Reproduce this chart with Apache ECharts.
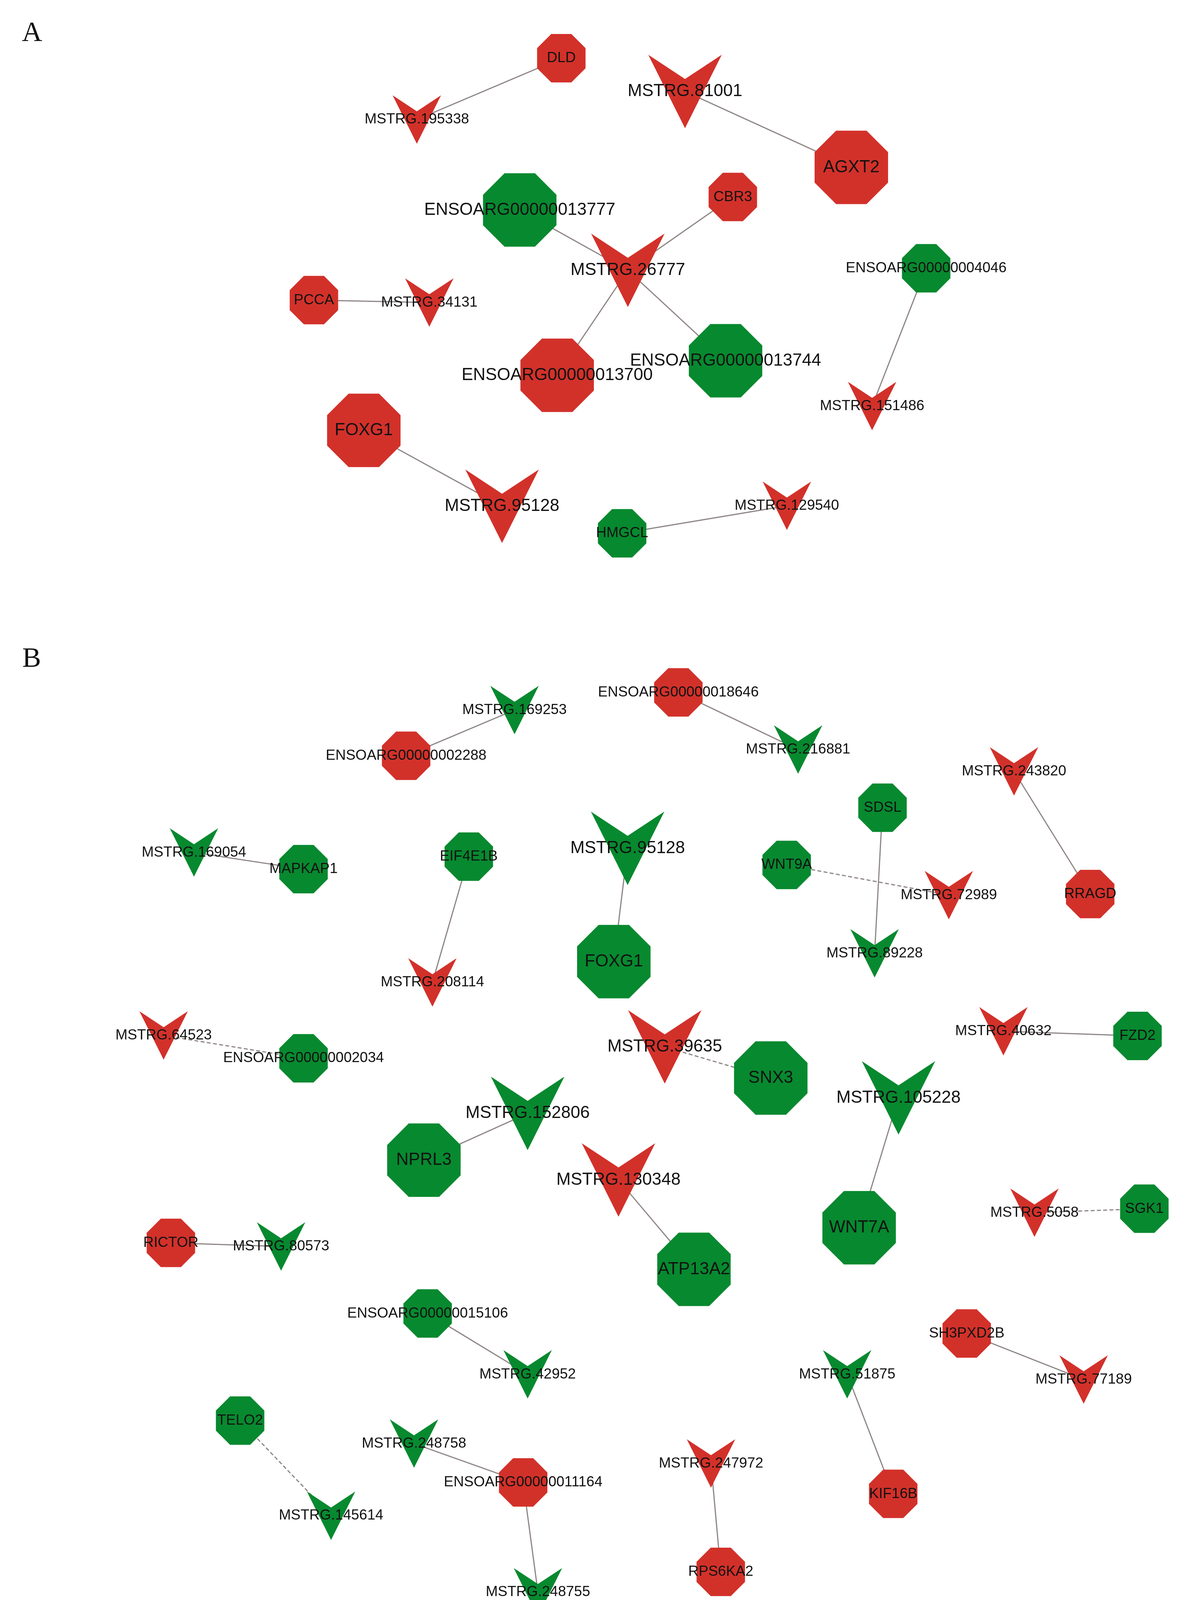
<!DOCTYPE html>
<html>
<head>
<meta charset="utf-8">
<title>lncRNA - mRNA network</title>
<script src="https://cdn.jsdelivr.net/npm/echarts@6/dist/echarts.min.js"></script>
<style>
  html, body { margin: 0; padding: 0; background: #ffffff; }
  #chart { width: 3033px; height: 4173px; }
</style>
</head>
<body>
<div id="chart"></div>
<script>
// ---- panel A ----
const aNames = ['DLD', 'MSTRG.195338', 'MSTRG.81001', 'AGXT2', 'ENSOARG00000013777', 'CBR3',
  'MSTRG.26777', 'ENSOARG00000004046', 'PCCA', 'MSTRG.34131', 'ENSOARG00000013744',
  'ENSOARG00000013700', 'MSTRG.151486', 'FOXG1', 'MSTRG.95128', 'HMGCL', 'MSTRG.129540'];
const aX = [540, 401, 659, 819, 500, 705, 604, 891, 302, 413, 698, 536, 839, 350, 483, 598.5, 757];
const aY = [56, 115, 88, 161, 202, 189.5, 260, 258, 288.7, 291, 347, 361, 390.6, 414, 487, 513, 486.5];
const aKind = ['mRNA', 'lncRNA', 'lncRNA', 'mRNA', 'mRNA', 'mRNA', 'lncRNA', 'mRNA', 'mRNA', 'lncRNA',
  'mRNA', 'mRNA', 'lncRNA', 'mRNA', 'lncRNA', 'mRNA', 'lncRNA'];
const aReg = ['up', 'up', 'up', 'up', 'down', 'up', 'up', 'down', 'up', 'up',
  'down', 'up', 'up', 'up', 'up', 'down', 'up'];
const aHub = [0, 0, 1, 1, 1, 0, 1, 0, 0, 0, 1, 1, 0, 1, 1, 0, 0];
const aSource = ['DLD', 'MSTRG.81001', 'ENSOARG00000013777', 'CBR3', 'MSTRG.26777', 'MSTRG.26777',
  'PCCA', 'ENSOARG00000004046', 'FOXG1', 'HMGCL'];
const aTarget = ['MSTRG.195338', 'AGXT2', 'MSTRG.26777', 'MSTRG.26777', 'ENSOARG00000013700',
  'ENSOARG00000013744', 'MSTRG.34131', 'MSTRG.151486', 'MSTRG.95128', 'MSTRG.129540'];
const aDashed = [0, 0, 0, 0, 0, 0, 0, 0, 0, 0];

// ---- panel B ----
const bNames = ['MSTRG.169253', 'ENSOARG00000002288', 'ENSOARG00000018646', 'MSTRG.216881', 'MSTRG.243820',
  'MSTRG.169054', 'MAPKAP1', 'EIF4E1B', 'MSTRG.95128', 'SDSL', 'WNT9A', 'MSTRG.72989', 'RRAGD',
  'FOXG1', 'MSTRG.208114', 'MSTRG.89228', 'MSTRG.64523', 'ENSOARG00000002034', 'MSTRG.39635', 'SNX3',
  'MSTRG.40632', 'FZD2', 'MSTRG.152806', 'NPRL3', 'MSTRG.105228', 'MSTRG.130348', 'WNT7A', 'ATP13A2',
  'MSTRG.5058', 'SGK1', 'RICTOR', 'MSTRG.80573', 'ENSOARG00000015106', 'MSTRG.42952', 'SH3PXD2B',
  'MSTRG.77189', 'MSTRG.51875', 'TELO2', 'MSTRG.248758', 'ENSOARG00000011164', 'MSTRG.145614',
  'MSTRG.247972', 'KIF16B', 'MSTRG.248755', 'RPS6KA2'];
const bX = [495, 390.7, 652.6, 767.8, 975.5, 186.6, 292, 451, 603.8, 849, 756.8, 912.8, 1048.8,
  590.5, 416, 841.4, 157.4, 292, 639.5, 741.5, 965.3, 1094.3, 507.6, 407.8, 864.4, 595, 826.5, 667.6,
  995.2, 1100.9, 164.4, 270.4, 411.4, 507.6, 930, 1042.5, 815, 231, 398.3, 503.3, 318.5,
  684, 859.3, 517.5, 693.4];
const bY = [683, 727, 666, 721, 742, 820, 836, 824, 816, 777, 832, 861, 860,
  925, 945, 917, 996, 1018, 1007, 1037, 992, 996.5, 1071, 1116, 1056, 1135, 1181, 1221,
  1166.5, 1162.7, 1195.5, 1199, 1263.5, 1322, 1282.7, 1327, 1322, 1366.5, 1388.6, 1426, 1458,
  1407.7, 1437, 1531.6, 1512];
const bKind = ['lncRNA', 'mRNA', 'mRNA', 'lncRNA', 'lncRNA', 'lncRNA', 'mRNA', 'mRNA', 'lncRNA', 'mRNA',
  'mRNA', 'lncRNA', 'mRNA', 'mRNA', 'lncRNA', 'lncRNA', 'lncRNA', 'mRNA', 'lncRNA', 'mRNA', 'lncRNA',
  'mRNA', 'lncRNA', 'mRNA', 'lncRNA', 'lncRNA', 'mRNA', 'mRNA', 'lncRNA', 'mRNA', 'mRNA', 'lncRNA',
  'mRNA', 'lncRNA', 'mRNA', 'lncRNA', 'lncRNA', 'mRNA', 'lncRNA', 'mRNA', 'lncRNA', 'lncRNA', 'mRNA',
  'lncRNA', 'mRNA'];
const bReg = ['down', 'up', 'up', 'down', 'up', 'down', 'down', 'down', 'down', 'down', 'down', 'up', 'up',
  'down', 'up', 'down', 'up', 'down', 'up', 'down', 'up', 'down', 'down', 'down', 'down', 'up', 'down',
  'down', 'up', 'down', 'up', 'down', 'down', 'down', 'up', 'up', 'down', 'down', 'down', 'up', 'down',
  'up', 'up', 'down', 'up'];
const bHub = [0, 0, 0, 0, 0, 0, 0, 0, 1, 0, 0, 0, 0, 1, 0, 0, 0, 0, 1, 1, 0, 0, 1, 1, 1, 1, 1, 1,
  0, 0, 0, 0, 0, 0, 0, 0, 0, 0, 0, 0, 0, 0, 0, 0, 0];
const bSource = ['ENSOARG00000002288', 'ENSOARG00000018646', 'MSTRG.243820', 'MSTRG.169054', 'EIF4E1B',
  'MSTRG.95128', 'WNT9A', 'SDSL', 'MSTRG.64523', 'MSTRG.39635', 'MSTRG.40632', 'MSTRG.152806',
  'MSTRG.105228', 'MSTRG.130348', 'MSTRG.5058', 'RICTOR', 'ENSOARG00000015106', 'SH3PXD2B',
  'MSTRG.51875', 'TELO2', 'MSTRG.248758', 'ENSOARG00000011164', 'MSTRG.247972'];
const bTarget = ['MSTRG.169253', 'MSTRG.216881', 'RRAGD', 'MAPKAP1', 'MSTRG.208114',
  'FOXG1', 'MSTRG.72989', 'MSTRG.89228', 'ENSOARG00000002034', 'SNX3', 'FZD2', 'NPRL3',
  'WNT7A', 'ATP13A2', 'SGK1', 'MSTRG.80573', 'MSTRG.42952', 'MSTRG.77189',
  'KIF16B', 'MSTRG.145614', 'ENSOARG00000011164', 'MSTRG.248755', 'RPS6KA2'];
const bDashed = [0, 0, 0, 0, 0, 0, 1, 0, 1, 1, 0, 0, 0, 0, 1, 0, 0, 0, 0, 1, 0, 0, 0];

const OCTAGON = 'path://M29.29 0L70.71 0L100 29.29L100 70.71L70.71 100L29.29 100L0 70.71L0 29.29Z';
const VEE = 'path://M0 0L50 33L100 0L50 100Z';
const RED = '#d2312a';
const GREEN = '#07892f';
const EDGE = '#8e8585';

function buildNodes(names, xs, ys, kinds, regs, hubs) {
  return names.map((n, i) => ({
    name: n,
    value: [xs[i], ys[i]],
    symbol: kinds[i] === 'lncRNA' ? VEE : OCTAGON,
    symbolSize: hubs[i] ? 188 : 124,
    itemStyle: { color: regs[i] === 'up' ? RED : GREEN },
    label: { fontSize: hubs[i] ? 44 : 37 }
  }));
}

function buildLinks(src, tgt, dashed) {
  return src.map((s, i) => ({
    source: s,
    target: tgt[i],
    lineStyle: { type: dashed[i] ? [10, 6] : 'solid' }
  }));
}

function graphSeries(nodes, links) {
  return {
    type: 'graph',
    coordinateSystem: 'cartesian2d',
    layout: 'none',
    roam: false,
    data: nodes,
    links: links,
    edgeSymbol: ['none', 'none'],
    lineStyle: { color: EDGE, width: 3, opacity: 1, curveness: 0 },
    label: {
      show: true,
      position: 'inside',
      color: '#111111',
      fontFamily: 'Liberation Sans',
      formatter: '{b}'
    },
    emphasis: { disabled: true }
  };
}

const chart = echarts.init(document.getElementById('chart'));
chart.setOption({
  animation: false,
  backgroundColor: '#ffffff',
  grid: { left: 0, right: 0, top: 0, bottom: 0 },
  xAxis: { type: 'value', min: 0, max: 1140, show: false },
  yAxis: { type: 'value', min: 0, max: 1568, inverse: true, show: false },
  graphic: [
    { type: 'text', x: 82, y: 86, style: { text: 'A', font: '72px "Liberation Serif"', fill: '#111', textAlign: 'center', textVerticalAlign: 'middle' } },
    { type: 'text', x: 81, y: 1688, style: { text: 'B', font: '72px "Liberation Serif"', fill: '#111', textAlign: 'center', textVerticalAlign: 'middle' } }
  ],
  series: [
    graphSeries(buildNodes(aNames, aX, aY, aKind, aReg, aHub), buildLinks(aSource, aTarget, aDashed)),
    graphSeries(buildNodes(bNames, bX, bY, bKind, bReg, bHub), buildLinks(bSource, bTarget, bDashed))
  ]
});
</script>
</body>
</html>
